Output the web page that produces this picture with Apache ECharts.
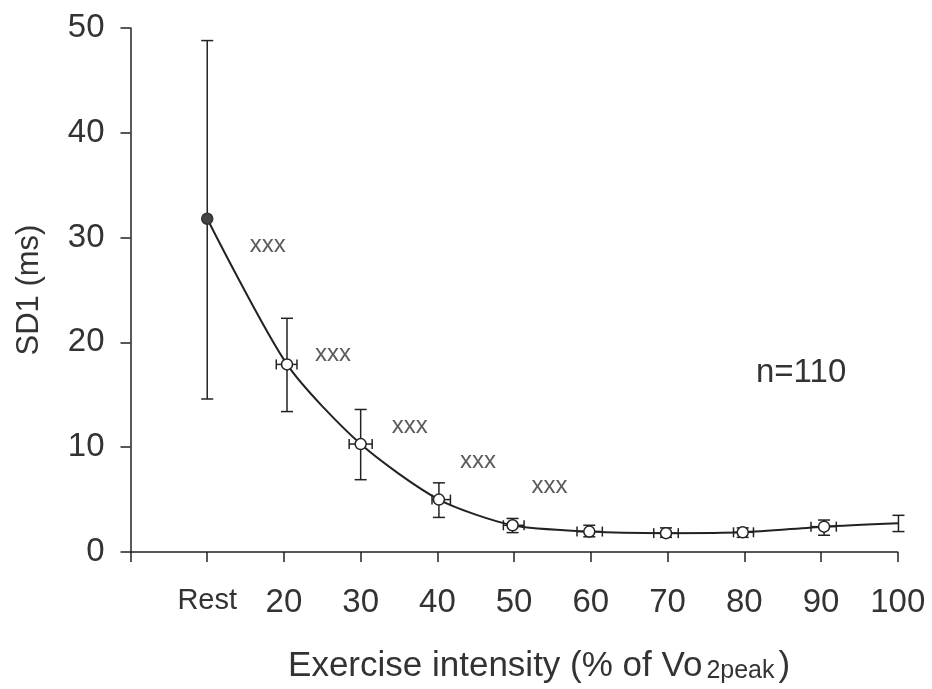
<!DOCTYPE html>
<html>
<head>
<meta charset="utf-8">
<script src="https://cdn.jsdelivr.net/npm/echarts@6/dist/echarts.min.js"></script>
<style>
html,body{margin:0;padding:0;background:#fff;}
#chart{width:932px;height:689px;}
</style>
</head>
<body>
<div id="chart"></div>
<script>
// ---- data ----
const xVals    = [10, 20.4, 30.0, 40.2, 49.8, 59.8, 69.8, 79.8, 90.4, 100.1];
const yVals    = [31.8, 17.9, 10.3, 5.0, 2.55, 1.95, 1.8, 1.88, 2.42, 2.74];
const yErrLow  = [14.6, 13.4, 6.9, 3.3, 1.85, 1.45, 1.4, 1.4, 1.6, 1.95];
const yErrHigh = [48.8, 22.3, 13.6, 6.6, 3.2, 2.55, 2.3, 2.3, 3.05, 3.5];
const xErrLow  = [null, 19.0, 28.5, 39.3, 48.6, 58.2, 68.2, 78.6, 88.7, null];
const xErrHigh = [null, 21.7, 31.5, 41.7, 51.3, 61.5, 71.4, 81.2, 92.0, null];
const xTicks   = [0, 10, 20, 30, 40, 50, 60, 70, 80, 90, 100];
const xTickLabels = {0: '', 10: 'Rest'};
const sigX     = [17.9, 26.4, 36.4, 45.3, 54.6];
const sigY     = [29.3, 18.9, 12.0, 8.6, 6.3];
const sigText  = 'xxx';
const nText    = 'n=110';

const chart = echarts.init(document.getElementById('chart'));
const ink = '#222';
const font = 'Liberation Sans, Arial, sans-serif';

const lineData = xVals.map((x, i) => ({
  value: [x, yVals[i]],
  symbol: 'circle',
  itemStyle: i === 0 ? {color: '#444', borderColor: '#333', borderWidth: 1.5} : {color: '#fff', borderColor: ink, borderWidth: 1.5}
}));
const errData = xVals.map((x, i) => [x, yVals[i], yErrLow[i], yErrHigh[i], xErrLow[i], xErrHigh[i]]);

chart.setOption({
  animation: false,
  backgroundColor: '#fff',
  grid: {left: 130.5, right: 34.3, top: 28, bottom: 137, containLabel: false, outerBoundsMode: 'none'},
  xAxis: {
    type: 'value', min: 0, max: 100, interval: 10,
    splitLine: {show: false},
    axisLine: {lineStyle: {color: ink, width: 1.5}},
    axisTick: {inside: false, length: 10, lineStyle: {color: ink, width: 1.5}},
    axisLabel: {
      margin: 34, color: '#333', fontSize: 33, fontFamily: font,
      formatter: v => (v in xTickLabels) ? (xTickLabels[v] ? '{r|' + xTickLabels[v] + '}' : '') : String(v),
      rich: {r: {fontSize: 29, fontFamily: font, color: '#333'}}
    },
    name: 'Exercise intensity (% of Vo{sub|2peak})',
    nameLocation: 'middle', nameGap: 96,
    nameTextStyle: {
      fontSize: 35, color: '#333', fontFamily: font, padding: [0, 0, 0, 50],
      rich: {sub: {fontSize: 25, color: '#333', fontFamily: font, padding: [11, 4, 0, 4]}}
    }
  },
  yAxis: {
    type: 'value', min: 0, max: 50, interval: 10,
    splitLine: {show: false},
    axisLine: {lineStyle: {color: ink, width: 1.5}},
    axisTick: {inside: false, length: 10, lineStyle: {color: ink, width: 1.5}},
    axisLabel: {margin: 26, color: '#333', fontSize: 33, fontFamily: font},
    name: 'SD1 (ms)', nameLocation: 'middle', nameGap: 86,
    nameTextStyle: {fontSize: 31, color: '#333', fontFamily: font}
  },
  series: [
    {
      type: 'custom', z: 1,
      data: errData,
      renderItem: function (params, api) {
        const x = api.value(0), y = api.value(1);
        const lo = api.coord([x, api.value(2)]);
        const hi = api.coord([x, api.value(3)]);
        const c = api.coord([x, y]);
        const style = {stroke: ink, lineWidth: 1.5, fill: null};
        const cw = 6;
        const kids = [
          {type: 'line', shape: {x1: lo[0], y1: lo[1], x2: hi[0], y2: hi[1]}, style},
          {type: 'line', shape: {x1: hi[0] - cw, y1: hi[1], x2: hi[0] + cw, y2: hi[1]}, style},
          {type: 'line', shape: {x1: lo[0] - cw, y1: lo[1], x2: lo[0] + cw, y2: lo[1]}, style}
        ];
        const xl = api.value(4), xh = api.value(5);
        if (xl != null && !isNaN(xl)) {
          const l = api.coord([xl, y]), h = api.coord([xh, y]);
          const ch = 5;
          kids.push({type: 'line', shape: {x1: l[0], y1: c[1], x2: h[0], y2: c[1]}, style});
          kids.push({type: 'line', shape: {x1: l[0], y1: c[1] - ch, x2: l[0], y2: c[1] + ch}, style});
          kids.push({type: 'line', shape: {x1: h[0], y1: c[1] - ch, x2: h[0], y2: c[1] + ch}, style});
        }
        return {type: 'group', children: kids};
      }
    },
    {
      type: 'line', z: 3,
      data: lineData,
      smooth: 0.25,
      symbolSize: 11,
      lineStyle: {color: ink, width: 2},
      itemStyle: {color: '#fff', borderColor: ink}
    },
    {
      type: 'scatter', z: 2,
      data: sigX.map((x, i) => [x, sigY[i]]),
      symbolSize: 0,
      label: {show: true, position: 'inside', formatter: sigText, fontSize: 24, color: '#333', fontFamily: font}
    }
  ],
  graphic: [
    {type: 'text', left: 756, top: 356, style: {text: nText, fontSize: 33, fill: '#333', font: '33px ' + font}}
  ]
});
</script>
</body>
</html>
